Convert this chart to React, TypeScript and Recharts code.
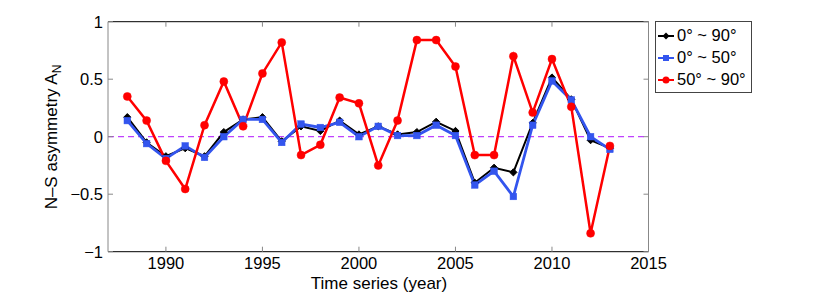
import React from "react";
import { LineChart, Line, XAxis, YAxis, ReferenceLine, Legend } from "recharts";

const years = [1988, 1989, 1990, 1991, 1992, 1993, 1994, 1995, 1996, 1997, 1998, 1999, 2000, 2001, 2002, 2003, 2004, 2005, 2006, 2007, 2008, 2009, 2010, 2011, 2012, 2013];
const seriesAll = [0.17, -0.05, -0.17, -0.1, -0.17, 0.04, 0.15, 0.17, -0.04, 0.09, 0.05, 0.14, 0.02, 0.09, 0.02, 0.04, 0.13, 0.05, -0.4, -0.27, -0.31, 0.12, 0.515, 0.325, -0.03, -0.1];
const seriesLow = [0.14, -0.06, -0.19, -0.08, -0.18, 0.0, 0.15, 0.15, -0.05, 0.11, 0.08, 0.125, 0.0, 0.09, 0.01, 0.01, 0.1, 0.01, -0.42, -0.3, -0.52, 0.1, 0.485, 0.32, 0.0, -0.11];
const seriesHigh = [0.35, 0.14, -0.21, -0.455, 0.1, 0.48, 0.09, 0.55, 0.82, -0.16, -0.07, 0.34, 0.29, -0.25, 0.14, 0.84, 0.84, 0.61, -0.16, -0.16, 0.7, 0.21, 0.675, 0.26, -0.84, -0.08];
const xTicks = [1990, 1995, 2000, 2005, 2010, 2015];
const yTicks = [-1, -0.5, 0, 0.5, 1];
const seriesNames = ["0\u00b0 ~ 90\u00b0", "0\u00b0 ~ 50\u00b0", "50\u00b0 ~ 90\u00b0"];

const data = years.map((y, i) => ({ year: y, all: seriesAll[i], low: seriesLow[i], high: seriesHigh[i] }));

const FONT = "'Liberation Sans', Arial, Helvetica, sans-serif";
const BLACK = "#000000";
const BLUE = "#3355ee";
const RED = "#ff0000";
const FS = 16.5;

const fmtY = (v: number) => (v < 0 ? "\u2212" + String(Math.abs(v)) : String(v));

const Diamond = (p: any) => {
  const { cx, cy } = p;
  if (cx == null || cy == null) return null;
  const r = 3.6;
  return <path d={`M${cx},${cy - r}L${cx + r},${cy}L${cx},${cy + r}L${cx - r},${cy}Z`} fill={BLACK} stroke={BLACK} strokeWidth={1} />;
};
const Square = (p: any) => {
  const { cx, cy } = p;
  if (cx == null || cy == null) return null;
  const s = 3.3;
  return <rect x={cx - s} y={cy - s} width={2 * s} height={2 * s} fill={BLUE} stroke={BLUE} strokeWidth={0.5} />;
};
const Circle = (p: any) => {
  const { cx, cy } = p;
  if (cx == null || cy == null) return null;
  return <circle cx={cx} cy={cy} r={4} fill={RED} stroke={RED} strokeWidth={0.5} />;
};

const BottomTick = (p: any) => {
  const { x, y, payload } = p;
  return (
    <g>
      <line x1={x} y1={y} x2={x} y2={y - 5} stroke="#888" strokeWidth={1} />
      <text x={x} y={y + 17} textAnchor="middle" fontSize={FS} fontFamily={FONT} fill="#000">{payload.value}</text>
    </g>
  );
};
const TopTick = (p: any) => {
  const { x, y } = p;
  return <line x1={x} y1={y} x2={x} y2={y + 5} stroke="#888" strokeWidth={1} />;
};
const LeftTick = (p: any) => {
  const { x, y, payload } = p;
  return (
    <g>
      <line x1={x} y1={y} x2={x + 5} y2={y} stroke="#888" strokeWidth={1} />
      <text x={x - 5} y={y + 6} textAnchor="end" fontSize={FS} fontFamily={FONT} fill="#000">{fmtY(payload.value)}</text>
    </g>
  );
};
const RightTick = (p: any) => {
  const { x, y } = p;
  return <line x1={x} y1={y} x2={x - 5} y2={y} stroke="#888" strokeWidth={1} />;
};

const YLabel = () => (
  <text transform="rotate(-90, 57, 137)" x={57} y={137} textAnchor="middle" fontSize={17} fontFamily={FONT} fill="#000">
    N{"\u2013"}S asymmetry A<tspan fontSize={12} dy={4}>N</tspan>
  </text>
);
const XLabel = () => (
  <text x={379} y={289} textAnchor="middle" fontSize={17} fontFamily={FONT} fill="#000">Time series (year)</text>
);

const markerFor = (i: number) => {
  if (i === 0) return <path d="M9,1.5L12.5,5L9,8.5L5.5,5Z" fill={BLACK} />;
  if (i === 1) return <rect x={6} y={2} width={6} height={6} fill={BLUE} />;
  return <circle cx={9} cy={5} r={3.5} fill={RED} />;
};
const colors = [BLACK, BLUE, RED];

const LegendBox = () => (
  <div style={{ boxSizing: "border-box", width: 97, height: 72, border: "1px solid #444", background: "#fff", fontFamily: FONT, fontSize: FS, paddingTop: 3 }}>
    {seriesNames.map((n, i) => (
      <div key={n} style={{ display: "flex", alignItems: "center", height: 22, whiteSpace: "nowrap" }}>
        <svg width={20} height={10} style={{ marginLeft: 1, marginRight: 0 }}>
          <line x1={1} y1={5} x2={17} y2={5} stroke={colors[i]} strokeWidth={2} />
          {markerFor(i)}
        </svg>
        <span>{n}</span>
      </div>
    ))}
  </div>
);

export default function App() {
  return (
    <div style={{ position: "absolute", left: 0, top: 0, width: 831, height: 293, background: "#fff" }}>
      <LineChart width={831} height={293} data={data} margin={{ top: 20.7, right: 181.5, bottom: 11.3, left: 48 }}>
        <XAxis dataKey="year" type="number" domain={[1987, 2015]} ticks={xTicks} interval={0} height={30} axisLine={{ stroke: "#000", strokeWidth: 1 }} tickLine={false} tickSize={0} tickMargin={0} tick={<BottomTick />} label={<XLabel />} allowDataOverflow />
        <XAxis xAxisId="top" dataKey="year" type="number" orientation="top" domain={[1987, 2015]} ticks={xTicks} interval={0} height={1} axisLine={{ stroke: "#000", strokeWidth: 1 }} tickLine={false} tickSize={0} tickMargin={0} tick={<TopTick />} allowDataOverflow />
        <YAxis type="number" domain={[-1, 1]} ticks={yTicks} interval={0} width={60} axisLine={{ stroke: "#888", strokeWidth: 1 }} tickLine={false} tickSize={0} tickMargin={0} tick={<LeftTick />} label={<YLabel />} allowDataOverflow />
        <YAxis yAxisId="right" orientation="right" type="number" domain={[-1, 1]} ticks={yTicks} interval={0} width={1} axisLine={{ stroke: "#888", strokeWidth: 1 }} tickLine={false} tickSize={0} tickMargin={0} tick={<RightTick />} allowDataOverflow />
        <ReferenceLine y={0} stroke="#c040ff" strokeWidth={1.2} strokeDasharray="6 4" />
        <Line dataKey="all" name={seriesNames[0]} stroke={BLACK} strokeWidth={2} dot={<Diamond />} activeDot={false} isAnimationActive={false} />
        <Line dataKey="low" name={seriesNames[1]} stroke={BLUE} strokeWidth={2.8} dot={<Square />} activeDot={false} isAnimationActive={false} />
        <Line dataKey="high" name={seriesNames[2]} stroke={RED} strokeWidth={2.5} dot={<Circle />} activeDot={false} isAnimationActive={false} />
        <Legend layout="horizontal" verticalAlign="middle" align="center" content={<LegendBox />} wrapperStyle={{ left: 655, top: 20.5, width: 97, height: 72 }} />
      </LineChart>
    </div>
  );
}
